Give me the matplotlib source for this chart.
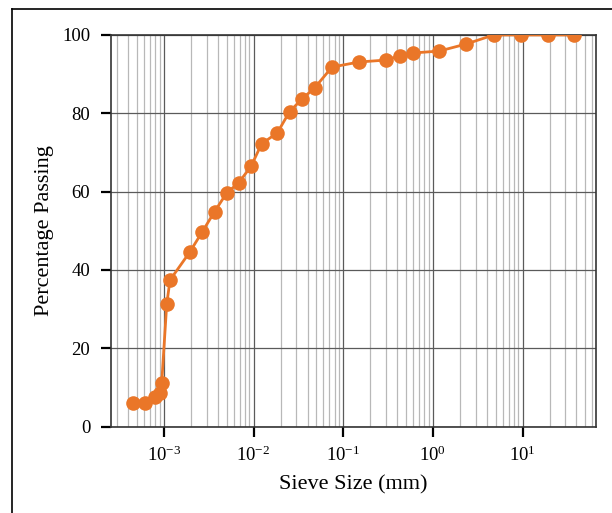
import matplotlib
matplotlib.use("Agg")
import matplotlib.pyplot as plt
from matplotlib.lines import Line2D
from matplotlib.ticker import LogLocator

plt.rcParams['font.family'] = ['Liberation Serif', 'DejaVu Serif']
plt.rcParams['mathtext.fontset'] = 'stix'

sieve_size_mm = [4.53e-4, 6.16e-4, 7.96e-4, 9.05e-4, 9.46e-4, 1.075e-3, 1.17e-3,
                 1.95e-3, 2.69e-3, 3.68e-3, 5.0e-3, 6.85e-3, 9.4e-3, 1.23e-2,
                 1.84e-2, 2.52e-2, 3.45e-2, 4.8e-2,
                 0.075, 0.15, 0.3, 0.425, 0.6, 1.18, 2.36, 4.75, 9.5, 19.0, 37.5]
percent_passing = [5.9, 5.9, 7.6, 8.5, 11.2, 31.2, 37.4,
                   44.6, 49.8, 54.9, 59.6, 62.3, 66.5, 72.2,
                   75.0, 80.4, 83.6, 86.5,
                   91.8, 93.1, 93.6, 94.7, 95.4, 95.9, 97.7, 100, 100, 100, 100]
y_ticks = [0, 20, 40, 60, 80, 100]

fig = plt.figure(figsize=(6.12, 5.13), dpi=100)
ax = fig.add_axes([0.1814, 0.1686, 0.7925, 0.7632])

color = '#EA7628'
ax.plot(sieve_size_mm, percent_passing, '-o', color=color, lw=2,
        markersize=10.5, markeredgewidth=0, zorder=3)
ax.set_xscale('log')
ax.set_ylim(0, 100)
ax.set_yticks(y_ticks)

ax.xaxis.set_minor_locator(LogLocator(base=10, subs=range(2, 10), numticks=50))
ax.grid(True, which='major', axis='both', color='#5a5a5a', lw=0.9)
ax.grid(True, which='minor', axis='x', color='#b8b8b8', lw=0.9)
ax.set_axisbelow(True)

ax.tick_params(axis='both', which='major', direction='out', length=7, width=1.6,
               labelsize=13.5, colors='black')
ax.tick_params(axis='y', which='major', pad=8)
ax.tick_params(axis='x', which='major', pad=7)
ax.tick_params(axis='x', which='minor', length=0)
for s in ax.spines.values():
    s.set_color('#333333')
    s.set_linewidth(1.2)

ax.set_xlabel('Sieve Size (mm)', fontsize=16, labelpad=7)
ax.set_ylabel('Percentage Passing', fontsize=16, labelpad=6)

fig.add_artist(Line2D([12/612, 12/612], [0, 1 - 9/513], transform=fig.transFigure,
                      color='black', lw=1.2))
fig.add_artist(Line2D([12/612, 1], [1 - 9/513, 1 - 9/513], transform=fig.transFigure,
                      color='black', lw=1.2))

fig.savefig('out.png', dpi=100)
